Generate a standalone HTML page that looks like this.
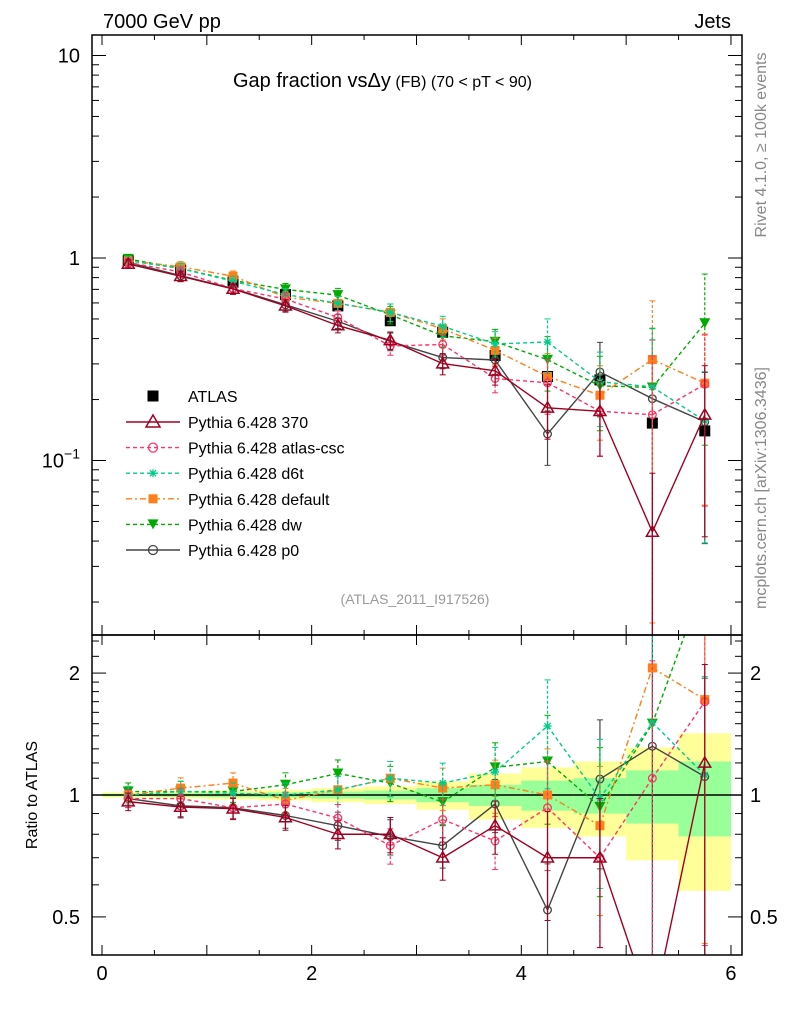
<!DOCTYPE html>
<html><head><meta charset="utf-8"><style>
html,body{margin:0;padding:0;background:#fff;width:786px;height:1024px;overflow:hidden}
svg{display:block;font-family:"Liberation Sans",sans-serif;overflow:hidden}
</style></head><body>
<svg id="c" width="786" height="1024" viewBox="0 0 786 1024"></svg>
<script>
const xCenters=[0.25,0.75,1.25,1.75,2.25,2.75,3.25,3.75,4.25,4.75,5.25,5.75];
const atlas=[0.97,0.87,0.76,0.66,0.58,0.49,0.43,0.33,0.26,0.25,0.153,0.14];
const bandStat=[0.007,0.01,0.012,0.015,0.02,0.025,0.04,0.06,0.085,0.1,0.15,0.21];
const bandTot=[0.015,0.02,0.025,0.03,0.04,0.05,0.08,0.13,0.17,0.21,0.31,0.42];
const r370=[0.963,0.934,0.925,0.88,0.80,0.80,0.70,0.84,0.70,0.70,0.29,1.2];
const rCsc=[0.98,0.98,0.93,0.95,0.877,0.75,0.87,0.77,0.93,0.70,1.1,1.70];
const rD6t=[1.0,1.02,1.01,1.0,1.03,1.10,1.07,1.14,1.48,0.98,1.51,1.12];
const rDef=[1.0,1.04,1.07,0.97,1.03,1.10,1.04,1.06,1.0,0.84,2.06,1.72];
const rDw=[1.02,1.02,1.02,1.06,1.13,1.07,0.96,1.17,1.21,0.935,1.5,3.4];
const rP0=[0.98,0.94,0.93,0.89,0.84,0.79,0.75,0.95,0.52,1.095,1.32,1.11];
const relErr=[0.05,0.06,0.06,0.07,0.08,0.1,0.12,0.15,0.3,0.4,0.95,0.75];
const seriesNames=["Pythia 6.428 370","Pythia 6.428 atlas-csc","Pythia 6.428 d6t","Pythia 6.428 default","Pythia 6.428 dw","Pythia 6.428 p0"];

const NS="http://www.w3.org/2000/svg",svg=document.getElementById('c');
function el(t,a,p){const e=document.createElementNS(NS,t);for(const k in a)e.setAttribute(k,a[k]);(p||svg).appendChild(e);return e;}
const L=92,R=742,T=35,M=635,B=955;
const X=v=>102+v*104.83;
const Y=v=>258-Math.log10(v)*202.5;
const YR=v=>795-Math.log10(v)*405;
const clipM=el('clipPath',{id:'cm'});el('rect',{x:L,y:T,width:R-L,height:M-T},clipM);
const clipR=el('clipPath',{id:'cr'});el('rect',{x:L,y:M,width:R-L,height:B-M},clipR);

// band
const gb=el('g',{'clip-path':'url(#cr)'});
xCenters.forEach((c,i)=>{
 el('rect',{x:X(c-0.25),y:YR(1+bandTot[i]),width:X(0.5)-X(0),height:YR(1-bandTot[i])-YR(1+bandTot[i]),fill:'#ffff99'},gb);
 el('rect',{x:X(c-0.25),y:YR(1+bandStat[i]),width:X(0.5)-X(0),height:YR(1-bandStat[i])-YR(1+bandStat[i]),fill:'#99ff99'},gb);
});
el('line',{x1:L,x2:R,y1:YR(1),y2:YR(1),stroke:'#000','stroke-width':1.5});

const styles=[
 {c:'#a00020',d:'',m:'tri'},
 {c:'#ff3366',d:'4,3',m:'circ'},
 {c:'#00cc88',d:'4,3',m:'star'},
 {c:'#ff7f1a',d:'6,3,2,3',m:'sq'},
 {c:'#00aa00',d:'4,3',m:'tdown'},
 {c:'#444444',d:'',m:'circ'}];
const ratios=[r370,rCsc,rD6t,rDef,rDw,rP0];
function marker(g,m,x,y,col,big){
 const s=big?1:0.85;
 if(m==='tri')el('path',{d:`M${x},${y-7*s}L${x+7*s},${y+5*s}L${x-7*s},${y+5*s}Z`,fill:'none',stroke:col,'stroke-width':1.5},g);
 else if(m==='circ')el('circle',{cx:x,cy:y,r:4.5*s,fill:'none',stroke:col,'stroke-width':1.3},g);
 else if(m==='star'){el('path',{d:`M${x-4},${y}h8M${x},${y-4}v8M${x-3},${y-3}l6,6M${x+3},${y-3}l-6,6`,stroke:col,'stroke-width':1.3},g);}
 else if(m==='sq')el('rect',{x:x-4.5,y:y-4.5,width:9,height:9,fill:col},g);
 else if(m==='tdown')el('path',{d:`M${x-5.5},${y-5}L${x+5.5},${y-5}L${x},${y+5}Z`,fill:col},g);
 else if(m==='bsq')el('rect',{x:x-5.5,y:y-5.5,width:11,height:11,fill:col},g);
}
// clip a segment to y range [y0,y1]
function clipSeg(xa,ya,xb,yb,y0,y1){
 let t0=0,t1=1;const dy=yb-ya;
 if(Math.abs(dy)<1e-9){if(ya<y0||ya>y1)return null;}
 else{let ta=(y0-ya)/dy,tb=(y1-ya)/dy;if(ta>tb)[ta,tb]=[tb,ta];t0=Math.max(t0,ta);t1=Math.min(t1,tb);if(t0>=t1)return null;}
 return [xa+(xb-xa)*t0,ya+dy*t0,xa+(xb-xa)*t1,ya+dy*t1];
}
function drawSeries(k){
 const st=styles[k],r=ratios[k];
 const vals=atlas.map((a,i)=>a*r[i]);
 [[Y,vals,'cm','main',T,M],[YR,r,'cr','ratio',M,B]].forEach(([fy,arr,cl,nm,y0,y1])=>{
  const g=el('g',{'clip-path':`url(#${cl})`});
  
  
  let d='';
  for(let i=0;i<arr.length-1;i++){
   const s=clipSeg(X(xCenters[i]),fy(arr[i]),X(xCenters[i+1]),fy(arr[i+1]),y0,y1);
   if(s)d+=`M${s[0].toFixed(2)},${s[1].toFixed(2)}L${s[2].toFixed(2)},${s[3].toFixed(2)}`;
  }
  el('path',{d,fill:'none',stroke:st.c,'stroke-width':1.4,'stroke-dasharray':st.d},g);
  const cy=y=>Math.min(y1,Math.max(y0,y));
  arr.forEach((v,i)=>{
   const x=X(xCenters[i]),lo=Math.max(v*(1-relErr[i]),1e-3),hi=v*(1+relErr[i]);
   const yv=fy(v);
   if(yv<y0||yv>y1)return;
   const ylo=cy(fy(lo)),yhi=cy(fy(hi));
   el('line',{x1:x,x2:x,y1:ylo,y2:yhi,stroke:st.c,'stroke-width':1.2,'stroke-dasharray':st.d?'3,2':''},g);
   if(ylo<y1)el('line',{x1:x-3,x2:x+3,y1:ylo,y2:ylo,stroke:st.c},g);
   if(yhi>y0)el('line',{x1:x-3,x2:x+3,y1:yhi,y2:yhi,stroke:st.c},g);
   marker(g,st.m,x,yv,st.c);
  });
 });
}
// atlas points
const ga=el('g',{'clip-path':'url(#cm)'});
atlas.forEach((v,i)=>{marker(ga,'bsq',X(xCenters[i]),Y(v),'#000');});
for(let k=5;k>=0;k--)drawSeries(k);

// frames
el('rect',{x:L,y:T,width:R-L,height:M-T,fill:'none',stroke:'#000','stroke-width':1.5});
el('rect',{x:L,y:M,width:R-L,height:B-M,fill:'none',stroke:'#000','stroke-width':1.5});
// x ticks
for(let v=0;v<=6.01;v+=0.5){const x=X(v),maj=Math.abs(v-Math.round(v))<1e-6,len=maj?10:5;
 [[T,1],[M,-1],[M,1],[B,-1]].forEach(([y,d])=>el('line',{x1:x,x2:x,y1:y,y2:y+d*len,stroke:'#000'}));}
[0,2,4,6].forEach(v=>{const t=el('text',{x:X(v),y:980,'font-size':20,'text-anchor':'middle'});t.textContent=v;});
// main y ticks
for(let e=-2;e<=1;e++)for(let m=1;m<=9;m++){const v=m*Math.pow(10,e),y=Y(v);if(y<T||y>M)continue;const len=m===1?14:7;
 el('line',{x1:L,x2:L+len,y1:y,y2:y,stroke:'#000'});el('line',{x1:R,x2:R-len,y1:y,y2:y,stroke:'#000'});}
[[10,'10'],[1,'1']].forEach(([v,s])=>{const t=el('text',{x:80,y:Y(v)+7,'font-size':20,'text-anchor':'end'});t.textContent=s;});
{const t=el('text',{x:80,y:Y(0.1)+7,'font-size':20,'text-anchor':'end'});t.innerHTML='10<tspan dy="-9" font-size="14">−1</tspan>';}
// ratio y ticks
[0.5,0.6,0.7,0.8,0.9,1,1.1,1.2,1.3,1.4,1.5,1.6,1.7,1.8,1.9,2,2.2,2.4].forEach(v=>{const y=YR(v);if(y<M||y>B)return;const maj=[0.5,1,2].includes(v),len=maj?14:7;
 el('line',{x1:L,x2:L+len,y1:y,y2:y,stroke:'#000'});el('line',{x1:R,x2:R-len,y1:y,y2:y,stroke:'#000'});});
[[2,'2'],[1,'1'],[0.5,'0.5']].forEach(([v,s])=>{
 let t=el('text',{x:80,y:YR(v)+7,'font-size':20,'text-anchor':'end'});t.textContent=s;
 t=el('text',{x:750,y:YR(v)+7,'font-size':20});t.textContent=s;});

function txt(x,y,s,a,name){const t=el('text',Object.assign({x,y},a));t.textContent=s;return t;}
txt(103,28,'7000 GeV pp',{'font-size':20},'energy-label');
txt(731,28,'Jets',{'font-size':20,'text-anchor':'end'},'process-label');
{const t=el('text',{x:233,y:87,'font-size':20});t.innerHTML='Gap fraction vs<tspan>Δy</tspan><tspan font-size="16"> (FB)</tspan><tspan font-size="16"> (70 &lt; pT &lt;  90)</tspan>';}
txt(415,604,'(ATLAS_2011_I917526)',{'font-size':14,fill:'#999','text-anchor':'middle'},'analysis-id');
txt(0,0,'Rivet 4.1.0, ≥ 100k events',{'font-size':16,fill:'#888',transform:'translate(766,145) rotate(-90)','text-anchor':'middle'},'rivet-label');
txt(0,0,'mcplots.cern.ch [arXiv:1306.3436]',{'font-size':16,fill:'#888',transform:'translate(766,488) rotate(-90)','text-anchor':'middle'},'mcplots-label');
txt(0,0,'Ratio to ATLAS',{'font-size':16,transform:'translate(37,795) rotate(-90)','text-anchor':'middle'},'ratio-axis-title');

// legend
const lg=el('g',{});
marker(lg,'bsq',153,396,'#000');
txt(188,402,'ATLAS',{'font-size':16},'legend-entry-atlas');
seriesNames.forEach((n,k)=>{const y=422+k*25.6,st=styles[k];
 el('line',{x1:126,x2:180,y1:y,y2:y,stroke:st.c,'stroke-width':1.4,'stroke-dasharray':st.d},lg);
 marker(lg,st.m,153,y,st.c,true);
 txt(188,y+6,n,{'font-size':16},'legend-entry');});
</script>
</body></html>
